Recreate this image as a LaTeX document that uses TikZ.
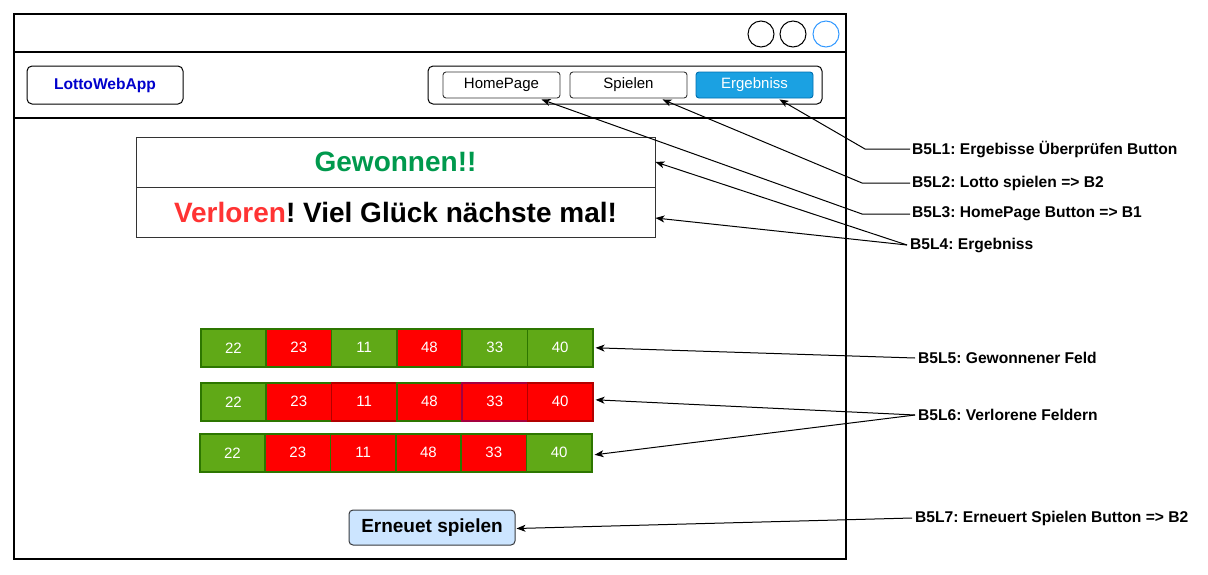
\documentclass[tikz,border=0pt]{standalone}
\usepackage{fontspec}
\setmainfont{Liberation Sans}
\usetikzlibrary{arrows.meta}
\frenchspacing
\definecolor{gfill}{HTML}{60A917}
\definecolor{gline}{HTML}{2D7600}
\definecolor{rfill}{HTML}{FF0000}
\definecolor{rline}{HTML}{B20000}
\definecolor{pline}{HTML}{A50040}
\definecolor{bluebtn}{HTML}{1BA1E2}
\definecolor{bluebtnline}{HTML}{006EAF}
\definecolor{circblue}{HTML}{3399FF}
\definecolor{wingreen}{HTML}{00994D}
\definecolor{losered}{HTML}{FF3333}
\definecolor{logoblue}{HTML}{0000CC}
\definecolor{btnfill}{HTML}{CCE5FF}
\definecolor{btnline}{HTML}{36393D}
\begin{document}
\begin{tikzpicture}[x=1pt,y=-1pt,
  frame/.style={draw=black,line width=1.1pt},
  navbtn/.style={draw=black!80,line width=0.9pt,rounded corners=3pt,minimum width=117pt,minimum height=26pt,inner sep=0pt,font=\fontsize{15}{17}\selectfont},
  cellg/.style={draw=gline,fill=gfill,line width=1.6pt,minimum width=65.3pt,minimum height=38pt,inner sep=0pt,anchor=north west,text=white,font=\fontsize{15}{17}\selectfont},
  cellr/.style={cellg,fill=rfill},
  lbl/.style={anchor=west,inner sep=0pt,font=\bfseries\fontsize{15.6}{18}\selectfont},
  arr/.style={draw=black,line width=1pt,-{Stealth[length=9pt,width=7pt,inset=2.5pt]}}
]
\useasboundingbox (0,0) rectangle (1208,574);
% window
\draw[frame] (14,14) rectangle (846,559);
\draw[frame] (14,52) -- (846,52);
\draw[frame] (14,118) -- (846,118);
\node[draw=black,line width=1pt,circle,minimum size=26pt,inner sep=0pt] (c1) at (761,34) {};
\node[draw=black,line width=1pt,circle,minimum size=26pt,inner sep=0pt] (c2) at (793,34) {};
\node[draw=circblue,line width=1pt,circle,minimum size=26pt,inner sep=0pt] (c3) at (826,34) {};
% logo
\node[draw=black,line width=1pt,rounded corners=5pt,minimum width=156pt,minimum height=38pt,inner sep=0pt,text=logoblue,font=\bfseries\fontsize{15.6}{18}\selectfont] (logo) at (105,85) {LottoWebApp};
% nav
\node[draw=black,line width=1pt,rounded corners=5pt,minimum width=394pt,minimum height=38pt,inner sep=0pt] (nav) at (625,85) {};
\node[navbtn] (home) at (501.5,85) {HomePage};
\node[navbtn] (spiel) at (628.5,85) {Spielen};
\node[navbtn,fill=bluebtn,draw=bluebtnline,text=white] (erg) at (754.5,85) {Ergebniss};
% result box
\node[draw=black!80,line width=1pt,minimum width=519pt,minimum height=50pt,inner sep=0pt,text=wingreen,font=\bfseries\fontsize{28}{32}\selectfont] (win) at (395.5,162) {Gewonnen!!};
\node[draw=black!80,line width=1pt,minimum width=519pt,minimum height=50pt,inner sep=0pt,font=\bfseries\fontsize{28}{32}\selectfont] (lose) at (395.5,212) {\textcolor{losered}{Verloren}! Viel Glück nächste mal!};
% rows
\node[cellg] (a1) at (200,328) {22};
\node[cellr] (a2) at (265.3,328) {23};
\node[cellg] (a3) at (330.7,328) {11};
\node[cellr] (a4) at (396,328) {48};
\node[cellg] (a5) at (461.3,328) {33};
\node[cellg] (a6) at (526.7,328) {40};
\node[cellg] (b1) at (200,382) {22};
\node[cellr] (b2) at (265.3,382) {23};
\node[cellr,draw=rline] (b3) at (330.7,382) {11};
\node[cellr] (b4) at (396,382) {48};
\node[cellr,draw=pline] (b5) at (461.3,382) {33};
\node[cellr,draw=rline] (b6) at (526.7,382) {40};
\node[cellg] (d1) at (199,433) {22};
\node[cellr] (d2) at (264.3,433) {23};
\node[cellr] (d3) at (329.7,433) {11};
\node[cellr] (d4) at (395,433) {48};
\node[cellr] (d5) at (460.3,433) {33};
\node[cellg] (d6) at (525.7,433) {40};
% button
\node[draw=btnline,fill=btnfill,line width=1pt,rounded corners=4pt,minimum width=166pt,minimum height=35pt,inner sep=0pt,font=\bfseries\fontsize{19}{22}\selectfont] (again) at (432,527.5) {Erneuet spielen};
% labels
\node[lbl] (l1) at (912,149) {B5L1: Ergebisse Überprüfen Button};
\node[lbl] (l2) at (912,183) {B5L2: Lotto spielen => B2};
\node[lbl] (l3) at (912,214) {B5L3: HomePage Button => B1};
\node[lbl] (l4) at (910,245) {B5L4: Ergebniss};
\node[lbl] (l5) at (918,358) {B5L5: Gewonnener Feld};
\node[lbl] (l6) at (918,415) {B5L6: Verlorene Feldern};
\node[lbl] (l7) at (915,518) {B5L7: Erneuert Spielen Button => B2};
\coordinate (k1) at (865,149);
\coordinate (k2) at (862,183);
\coordinate (k3) at (862,214);
% connectors
\draw[arr] ([xshift=-2pt]l1.west) -- (k1) -- ([xshift=25pt,yshift=-1pt]erg.south);
\draw[arr] ([xshift=-2pt]l2.west) -- (k2) -- ([xshift=34pt,yshift=-1pt]spiel.south);
\draw[arr] ([xshift=-2pt]l3.west) -- (k3) -- ([xshift=40pt,yshift=-1pt]home.south);
\draw[arr] ([xshift=-3pt]l4.west) -- (win.east);
\draw[arr] ([xshift=-3pt]l4.west) -- ([yshift=-6pt]lose.east);
\draw[arr] ([xshift=-3pt]l5.west) -- ([xshift=2pt]a6.east);
\draw[arr] ([xshift=-3pt]l6.west) -- ([xshift=2pt,yshift=2pt]b6.east);
\draw[arr] ([xshift=-3pt]l6.west) -- ([xshift=2pt,yshift=-2pt]d6.east);
\draw[arr] ([xshift=-3pt]l7.west) -- ([xshift=1pt,yshift=-1pt]again.east);
\end{tikzpicture}
\end{document}
